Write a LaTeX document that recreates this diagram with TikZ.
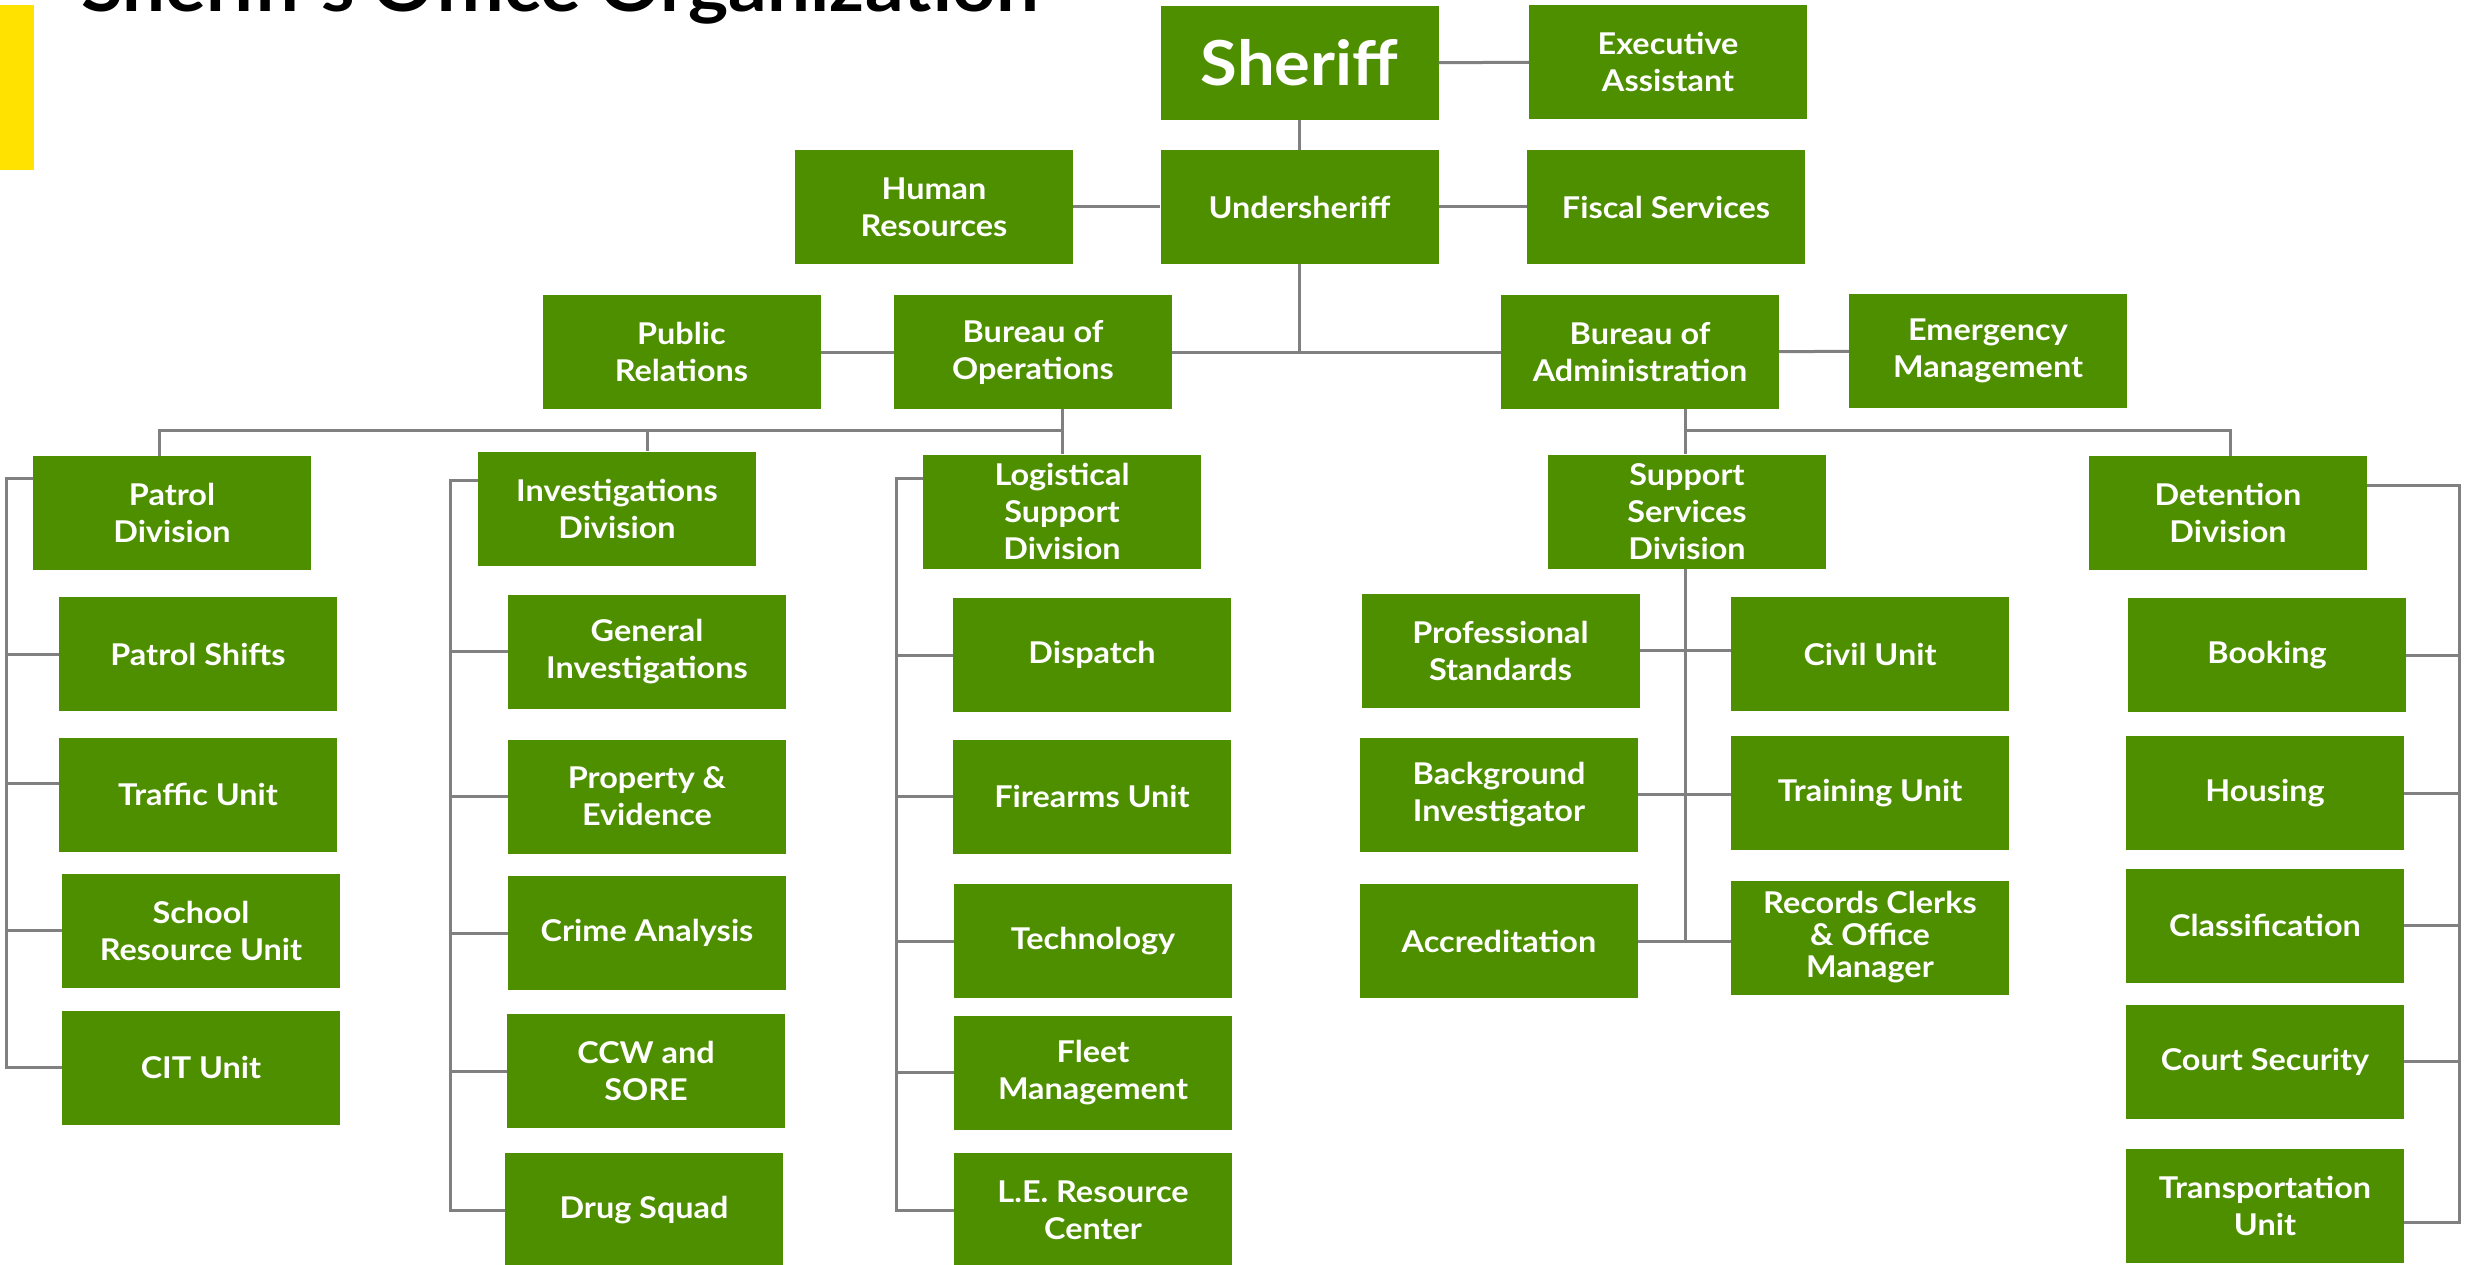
\documentclass[tikz,border=0pt]{standalone}
\usepackage{fontspec}
\newfontfamily\lato[FakeStretch=1.08]{Lato}
\usepackage{graphicx}
\definecolor{boxgreen}{RGB}{78,143,0}
\definecolor{linegray}{RGB}{128,128,128}
\definecolor{baryellow}{RGB}{255,226,0}
\tikzset{
  box/.style={fill=boxgreen, text=white, inner sep=0pt, minimum width=278pt, minimum height=114pt,
    align=center, font=\lato\bfseries\fontsize{30}{37}\selectfont},
  conn/.style={draw=linegray, line width=3pt}
}
\begin{document}
\begin{tikzpicture}[x=1pt,y=-1pt]
\useasboundingbox (0,0) rectangle (2483,1265);
\clip (0,0) rectangle (2483,1265);
% title and bar
\fill[baryellow] (0,5) rectangle (34,170);
\node[anchor=base west, inner sep=0pt] (title) at (81,12) {\resizebox{957pt}{!}{\lato\bfseries Sheriff’s Office Organization}};
% top levels
\node[box, font=\lato\bfseries\fontsize{62}{68}\selectfont] (sheriff) at (1299.5,63) {Sheriff};
\node[box] (exec) at (1668,62) {Executive\\Assistant};
\node[box] (hr) at (934,207) {Human\\Resources};
\node[box] (under) at (1299.5,207) {Undersheriff};
\node[box] (fiscal) at (1666,207) {Fiscal Services};
\node[box] (pr) at (681.5,352) {Public\\Relations};
\node[box] (ops) at (1033,352) {Bureau of\\Operations};
\node[box] (admin) at (1640,352) {Bureau of\\Administration};
\node[box] (emerg) at (1988,351) {Emergency\\Management};
% divisions
\node[box] (patrol) at (172,513) {Patrol\\Division};
\node[box] (inv) at (617,508.5) {Investigations\\Division};
\node[box] (log) at (1062,511.5) {Logistical\\Support\\Division};
\node[box] (ssd) at (1687,511.5) {Support\\Services\\Division};
\node[box] (det) at (2228,513) {Detention\\Division};
% patrol units
\node[box] (shifts) at (198,654) {Patrol Shifts};
\node[box] (traffic) at (198,794.5) {Traffic Unit};
\node[box] (school) at (201,930.5) {School\\Resource Unit};
\node[box] (cit) at (201,1067.5) {CIT Unit};
% investigations units
\node[box] (gi) at (647,651.5) {General\\Investigations};
\node[box] (pe) at (647,796.5) {Property \&\\Evidence};
\node[box] (ca) at (647,933) {Crime Analysis};
\node[box] (ccw) at (646,1071) {CCW and\\SORE};
\node[box] (ds) at (644,1210) {Drug Squad};
% logistical units
\node[box] (dispatch) at (1092,655) {Dispatch};
\node[box] (firearms) at (1092,796.5) {Firearms Unit};
\node[box] (tech) at (1093,941) {Technology};
\node[box] (fleet) at (1093,1072.5) {Fleet\\Management};
\node[box] (le) at (1093,1210) {L.E. Resource\\Center};
% support services units
\node[box] (ps) at (1500.5,650.5) {Professional\\Standards};
\node[box] (civil) at (1870,654) {Civil Unit};
\node[box] (bi) at (1499,794.5) {Background\\Investigator};
\node[box] (training) at (1870,793) {Training Unit};
\node[box] (accr) at (1499,941) {Accreditation};
\node[box, font=\lato\bfseries\fontsize{30}{32}\selectfont] (records) at (1870,937.5) {Records Clerks\\\& Office\\Manager};
% detention units
\node[box] (booking) at (2267,655) {Booking};
\node[box] (housing) at (2265,793) {Housing};
\node[box] (class) at (2265,925.5) {Classification};
\node[box] (court) at (2265,1061.5) {Court Security};
\node[box] (trans) at (2265,1205.5) {Transportation\\Unit};
% connectors top
\draw[conn] (sheriff) -- (exec);
\draw[conn] (sheriff) -- (under);
\draw[conn] (hr) -- (under);
\draw[conn] (under) -- (fiscal);
\draw[conn] (pr) -- (ops);
\draw[conn] (ops) -- (admin);
\draw[conn] (admin) -- (emerg);
\draw[conn] (under.south) -- (under.south |- ops.east);
% buses
\coordinate (jP) at (159,430);
\coordinate (jI) at (647,430);
\coordinate (jL) at (1062,430);
\coordinate (jS) at (1685,430);
\coordinate (jD) at (2230,430);
\draw[conn] (ops.south -| jL) -- (jL) -- (jP) -- (patrol.north -| jP);
\draw[conn] (jI) -- (inv.north -| jI);
\draw[conn] (jL) -- (log.north -| jL);
\draw[conn] (admin.south -| jS) -- (jS) -- (jD) -- (det.north -| jD);
\draw[conn] (jS) -- (ssd.north -| jS);
% patrol bracket
\coordinate (bP) at (6,478);
\coordinate (tfw) at ([yshift=11pt]traffic.west);
\draw[conn] (patrol.west |- bP) -- (bP) -- (bP |- cit.west) -- (cit.west);
\draw[conn] (bP |- shifts.west) -- (shifts.west);
\draw[conn] (bP |- tfw) -- (tfw);
\draw[conn] (bP |- school.west) -- (school.west);
% investigations bracket
\coordinate (bI) at (450,480);
\draw[conn] (inv.west |- bI) -- (bI) -- (bI |- ds.west) -- (ds.west);
\draw[conn] (bI |- gi.west) -- (gi.west);
\draw[conn] (bI |- pe.west) -- (pe.west);
\draw[conn] (bI |- ca.west) -- (ca.west);
\draw[conn] (bI |- ccw.west) -- (ccw.west);
% logistical bracket
\coordinate (bL) at (896,478);
\draw[conn] (log.west |- bL) -- (bL) -- (bL |- le.west) -- (le.west);
\draw[conn] (bL |- dispatch.west) -- (dispatch.west);
\draw[conn] (bL |- firearms.west) -- (firearms.west);
\draw[conn] (bL |- tech.west) -- (tech.west);
\draw[conn] (bL |- fleet.west) -- (fleet.west);
% support services
\draw[conn] (ssd.south -| jS) -- (jS |- accr.east);
\draw[conn] (ps.east) -- (ps.east -| civil.west);
\draw[conn] (bi.east) -- (bi.east -| training.west);
\draw[conn] (accr.east) -- (accr.east -| records.west);
% detention bracket
\coordinate (bD) at (2459,485);
\coordinate (tre) at ([yshift=-17pt]trans.east);
\draw[conn] (det.east |- bD) -- (bD) -- (bD |- tre) -- (tre);
\draw[conn] (bD |- booking.east) -- (booking.east);
\draw[conn] (bD |- housing.east) -- (housing.east);
\draw[conn] (bD |- class.east) -- (class.east);
\draw[conn] (bD |- court.east) -- (court.east);
\end{tikzpicture}
\end{document}
